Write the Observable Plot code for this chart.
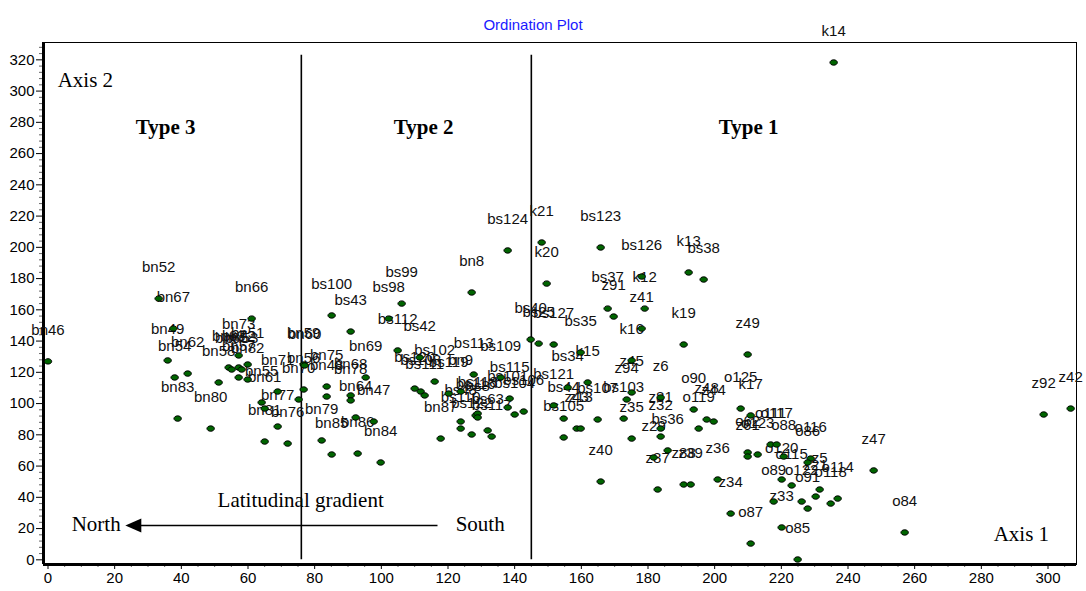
<!DOCTYPE html>
<html><head><meta charset="utf-8">
<script src="https://cdn.jsdelivr.net/npm/d3@7"></script>
<script src="https://cdn.jsdelivr.net/npm/@observablehq/plot@0.6"></script>
<style>body{margin:0;background:#fff}#chart svg{display:block}</style>
</head><body><div id="chart"></div>
<script>
const labels = ["bn46","bn52","bn67","bn49","bn62","bn54","bn83","bn80","bn58","bn66","bn73","bn63","bn65","bn72","bn53","bn51","bn57","bn82","bn55","bn61","bn81","bn76","bn77","bn71","bn70","bn56","bn59","bn60","bn48","bn75","bn79","bn85","bs100","bs43","bs98","bs99","bs112","bs42","bn8","bs124","k21","k20","bn69","bn68","bn78","bn64","bn47","bn86","bn84","bs102","bs120","bs108","bs111","bs119","bn9","bs113","bs109","bs115","bs106","bs104","bs116","bs118","bs8","bs48","bs110","bs122","bs63","bs117","bn87","bs101","bs40","bs25","bs127","bs35","bs123","bs126","k13","bs38","bs37","z91","k12","z41","k16","k19","z49","k14","bs34","k15","bs121","bs44","bs105","z43","z13","bs107","bs103","z45","z94","z6","z35","z81","z32","o90","z48","z44","o119","o125","k17","bs36","z29","z40","z87","z88","z39","z36","z34","o87","o62","z61","o123","o111","o117","o88","o116","o86","o120","o115","z5","o89","o122","o114","o118","o91","z21","z33","o85","z47","o84","z92","z42"];
const axis1 = [0,33.2,37.6,35.9,41.9,38.0,38.9,48.8,51.2,61.1,57.2,54.2,55.1,57.2,58.1,59.9,57.2,59.9,64.1,65.0,65.0,71.9,68.9,68.9,75.2,76.7,76.7,77.0,83.6,83.6,82.1,85.1,85.1,90.8,102.2,106.1,104.9,111.5,127.1,137.9,148.1,149.6,95.3,90.8,90.8,92.3,97.7,92.9,99.8,116.0,110.0,111.8,113.0,120.2,123.8,127.7,135.8,138.5,142.7,140.0,128.3,128.9,128.9,123.8,123.8,127.1,131.9,133.1,117.8,137.9,144.8,147.2,151.7,159.8,165.8,178.1,192.2,196.7,167.9,169.7,179.0,178.1,175.1,190.7,209.9,235.7,155.9,161.9,151.7,154.7,154.7,158.6,159.8,164.9,172.7,175.1,173.6,183.8,175.1,183.8,183.8,193.7,197.6,199.7,195.2,207.8,210.8,185.9,181.7,165.8,182.9,190.7,192.8,200.9,204.8,210.8,209.9,209.9,212.9,216.8,218.6,220.7,228.8,227.9,220.1,223.1,231.5,217.7,226.1,236.9,234.8,227.9,230.3,220.1,224.9,247.7,257.0,298.7,306.8];
const axis2 = [127,167.2,148.0,127.6,119.2,116.7,90.4,84.0,113.5,154.4,130.8,123.1,121.8,123.1,121.8,125.0,116.7,115.4,100.7,96.8,75.7,74.4,85.3,107.7,102.6,109.0,125.0,124.4,104.5,110.9,76.4,67.4,156.4,146.1,154.4,164.0,134.0,129.5,171.1,198.0,203.1,176.8,116.7,105.2,102.0,91.1,88.5,68.0,62.3,114.1,109.6,107.7,105.2,106.4,107.7,118.6,116.7,103.2,94.9,93.0,92.4,93.6,91.1,88.5,84.0,80.2,82.8,78.9,77.6,97.5,141.0,138.4,137.8,132.7,199.9,181.3,183.9,179.4,160.8,155.7,160.8,148.0,127.6,137.8,131.4,318.3,110.3,113.5,98.8,90.4,78.3,84.0,84.0,89.8,90.4,107.1,102.6,103.9,77.6,84.0,78.9,96.2,89.8,88.5,84.0,96.8,92.4,70.0,65.5,50.1,45.0,48.2,48.2,51.4,29.6,10.4,68.7,66.1,67.4,73.8,73.8,66.1,64.8,62.3,51.4,47.6,45.0,37.3,37.3,39.2,36.0,32.8,40.5,20.7,0.2,57.2,17.5,93.0,96.8];

const xTicks = d3.range(0, 301, 20);
const yTicks = d3.range(0, 321, 20);
const dividers = [76, 145];
const typeNames = ["Type 3", "Type 2", "Type 1"];
const typeX = [35.3, 112.7, 210.2];
const typeY = 276.7;
const notes = [
  {text: "Axis 2", x: 2.9, y: 306.7, anchor: "start"},
  {text: "Axis 1", x: 283.7, y: 16.2, anchor: "start"},
  {text: "Latitudinal gradient", x: 75.8, y: 38.0, anchor: "middle"},
  {text: "North", x: 21.8, y: 22.6, anchor: "end"},
  {text: "South", x: 122.3, y: 22.6, anchor: "start"}
];
const arrow = {from: 117, to: 25.6, y: 22.0};

const pts = labels.map((l, i) => ({label: l, x: axis1[i], y: axis2[i]}));

const ellipse = {draw(ctx) {
  const rx = 3.7, ry = 2.7, k = 0.5523;
  ctx.moveTo(rx, 0);
  ctx.bezierCurveTo(rx, ry*k, rx*k, ry, 0, ry);
  ctx.bezierCurveTo(-rx*k, ry, -rx, ry*k, -rx, 0);
  ctx.bezierCurveTo(-rx, -ry*k, -rx*k, -ry, 0, -ry);
  ctx.bezierCurveTo(rx*k, -ry, rx, -ry*k, rx, 0);
  ctx.closePath();
}};
const triangle = {draw(ctx) {
  ctx.moveTo(-8, 0); ctx.lineTo(8, -7); ctx.lineTo(8, 7); ctx.closePath();
}};

const serif = "Liberation Serif, Times New Roman, serif";
const noteMark = (anchor) => Plot.text(notes.filter(d => d.anchor === anchor), {x: "x", y: "y", text: "text", textAnchor: anchor, fontFamily: serif, fontSize: 21, fill: "black"});
const chart = Plot.plot({
  width: 1086, height: 591,
  marginTop: 42, marginLeft: 43, marginRight: 10, marginBottom: 27,
  x: {domain: [-1.35, 308.55], label: null},
  y: {domain: [-3.0, 331.1], label: null},
  style: {fontFamily: "Liberation Sans, Arial, sans-serif", fontSize: "15px", color: "black", background: "white"},
  marks: [
    Plot.frame({stroke: "black", strokeWidth: 1}),
    Plot.axisX(d3.range(0, 306, 5).filter(v => v % 20), {tickSize: 3, tickFormat: () => "", stroke: "#666", label: null}),
    Plot.axisY(d3.range(0, 331, 4).filter(v => v % 20), {tickSize: 4, tickFormat: () => "", stroke: "#666", label: null}),
    Plot.axisX(xTicks, {tickSize: 5, tickPadding: 3, fontSize: 15, label: null, fill: "black", stroke: "black"}),
    Plot.axisY(yTicks, {tickSize: 7, tickPadding: 2, fontSize: 15, label: null, fill: "black", stroke: "black"}),
    Plot.ruleX([-1.35], {stroke: "black", strokeWidth: 3}),
    Plot.ruleY([-3.0], {stroke: "black", strokeWidth: 3}),
    Plot.ruleX(dividers, {y1: 0, y2: 323, stroke: "black", strokeWidth: 1.6}),
    Plot.ruleY([arrow], {y: "y", x1: "from", x2: "to", stroke: "black", strokeWidth: 1.5}),
    Plot.dot([arrow], {x: "to", y: "y", symbol: triangle, fill: "black", stroke: "none"}),
    Plot.text(typeNames, {x: (d, i) => typeX[i], y: () => typeY, text: d => d, fontFamily: serif, fontSize: 21, fontWeight: "bold", fill: "black"}),
    noteMark("start"),
    noteMark("middle"),
    noteMark("end"),
    Plot.text(pts, {x: "x", y: "y", text: "label", dy: -31, fontSize: 15, fill: "#111"}),
    Plot.dot(pts, {x: "x", y: "y", symbol: ellipse, fill: "#006400", stroke: "black", strokeWidth: 1}),
    Plot.text(["Ordination Plot"], {frameAnchor: "top", dy: -23, dx: -27, text: d => d, fontSize: 15, fill: "#1a1aff"})
  ]
});
document.getElementById("chart").appendChild(chart);
</script>
</body></html>
